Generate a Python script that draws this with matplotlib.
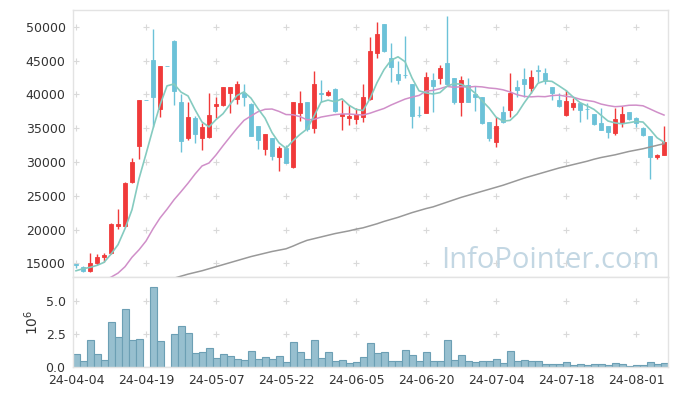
import numpy as np
import pandas as pd
import matplotlib
matplotlib.use('Agg')
import matplotlib.pyplot as plt

# trading days (KRX holidays removed)
holidays = ['2024-04-10', '2024-05-01', '2024-05-06', '2024-05-15', '2024-06-06']
dates = pd.bdate_range('2024-04-04', '2024-08-07', freq='C', holidays=holidays)

opens = [14900, 14500, 13800, 15000, 15950, 16500, 20500, 20450, 27100, 32350,
         39100, 45150, 37850, 44250, 47900, 38800, 33500, 36450, 33500, 33700,
         38250, 38400, 40150, 39300, 40150, 38500, 35250, 31900, 33500, 30700,
         32100, 29250, 37200, 38900, 35050, 40200, 39900, 40750, 36800, 36500,
         36350, 36600, 39300, 46150, 50350, 45400, 42950, 42900, 41500, 36950,
         37250, 42100, 42350, 44600, 42450, 38800, 41400, 40050, 39550, 35850,
         33000, 37450, 37700, 41150, 42300, 40900, 43550, 43100, 41050, 39150,
         36950, 38100, 38700, 37900, 37050, 35700, 35300, 34250, 35700, 37350,
         36450, 35050, 33900, 30800, 31050]
highs = [14950, 14600, 16600, 16400, 16600, 20900, 23000, 27000, 30550, 39100,
         39100, 49600, 44250, 44250, 48050, 40000, 38900, 36850, 35800, 40150,
         39650, 41100, 41050, 41950, 41600, 38750, 35250, 34100, 33500, 32400,
         32500, 38900, 40550, 38900, 43500, 42100, 40650, 41000, 39150, 38400,
         37950, 41600, 48500, 50650, 50400, 47550, 45000, 48700, 41500, 38300,
         43300, 43100, 44350, 51650, 42450, 42700, 42450, 41300, 39550, 35850,
         36700, 38300, 43100, 42100, 43850, 43600, 44350, 43850, 41050, 40150,
         40650, 39400, 38900, 38700, 37050, 37950, 35300, 37950, 38200, 37400,
         36700, 35200, 33900, 31150, 35350]
lows = [14250, 13750, 13750, 14800, 15250, 16400, 20050, 20300, 26850, 30450,
        39100, 35200, 36700, 44250, 38400, 31400, 33250, 32750, 31750, 33600,
        36450, 38300, 37300, 38550, 38200, 33800, 31850, 31050, 30300, 28700,
        29800, 29150, 36050, 34600, 34250, 38900, 39800, 37450, 34750, 35450,
        35550, 35850, 39200, 45300, 46300, 41750, 41550, 42400, 35000, 36700,
        37200, 37450, 41600, 41400, 38550, 36850, 38800, 37550, 35600, 33150,
        32250, 35700, 36700, 39650, 39650, 40150, 41750, 41600, 39150, 38100,
        36850, 37700, 35950, 36300, 35450, 34700, 33600, 34000, 35100, 36200,
        35100, 33850, 27400, 30450, 31000]
closes = [14700, 13800, 15000, 16000, 16200, 20800, 20800, 26850, 30050, 39100,
          39100, 39550, 44250, 44250, 40500, 33100, 36700, 34100, 35100, 36900,
          38500, 41050, 41050, 41600, 39600, 33850, 33250, 34100, 30900, 32000,
          29800, 38900, 38750, 34900, 41550, 40100, 40400, 37550, 37050, 36800,
          37050, 39550, 46400, 48850, 46400, 44000, 42100, 42800, 36800, 36900,
          42500, 41250, 43850, 41500, 38800, 42100, 38900, 39650, 35800, 33500,
          35300, 35950, 40150, 40600, 41500, 42500, 43450, 41950, 40150, 38200,
          39050, 38750, 37700, 37800, 35550, 34750, 34450, 36300, 37150, 36350,
          35700, 34000, 30800, 31050, 33000]
# volume in millions of shares
volumes = [0.94, 0.43, 2.0, 0.94, 0.5, 3.38, 2.23, 4.37, 2.0, 2.08,
           0.0, 6.1, 1.95, 0.0, 2.49, 3.07, 2.56, 1.04, 1.12, 1.4,
           0.66, 0.94, 0.81, 0.58, 0.5, 1.19, 0.58, 0.74, 0.58, 0.81,
           0.36, 1.88, 1.12, 0.58, 2.0, 0.66, 1.12, 0.43, 0.53, 0.28,
           0.38, 0.76, 1.83, 1.07, 1.14, 0.46, 0.46, 1.29, 0.91, 0.46,
           1.14, 0.46, 0.46, 2.05, 0.53, 0.91, 0.46, 0.38, 0.46, 0.46,
           0.61, 0.3, 1.22, 0.46, 0.53, 0.46, 0.46, 0.2, 0.2, 0.2,
           0.36, 0.13, 0.2, 0.13, 0.2, 0.2, 0.13, 0.28, 0.2, 0.05,
           0.13, 0.13, 0.36, 0.2, 0.28]

# moving-average values before enough closes are on screen
ma5_head = [13900, 14200, 14400, 14700]
ma20_head = [np.nan, np.nan, np.nan, np.nan, 12500, 12950, 13550, 14500, 15900, 17000,
             18300, 20100, 21700, 23000, 24400, 25600, 26850, 28200, 29400]
# long moving average (grey)
ma_long = [np.nan] * 14 + [
    12800, 13100, 13400, 13650, 13900, 14200, 14500, 14800, 15100, 15400,
    15700, 16000, 16250, 16500, 16750, 16950, 17150, 17550, 18000, 18400,
    18650, 18900, 19150, 19400, 19600, 19800, 20050, 20250, 20550, 20850,
    21200, 21500, 21800, 22150, 22500, 22800, 23100, 23350, 23700, 24050,
    24400, 24750, 25050, 25350, 25650, 25950, 26250, 26550, 26900, 27250,
    27600, 27900, 28200, 28500, 28800, 29100, 29350, 29600, 29850, 30100,
    30400, 30650, 30850, 31050, 31300, 31550, 31750, 31950, 32200, 32450,
    32700]

RED = '#f03a3a'
BLUE = '#6cc2d8'
GRID = '#d9d9d9'
SPINE = '#e3e3e3'

o = np.array(opens, float)
h = np.array(highs, float)
l = np.array(lows, float)
c = np.array(closes, float)
n = len(c)
x = np.arange(n)

cs = pd.Series(c)
ma5 = cs.rolling(5).mean().values
ma5[:4] = ma5_head
ma20 = cs.rolling(20).mean().values
ma20[:19] = ma20_head

fig = plt.figure(figsize=(6.77, 3.96), dpi=100)
ax = fig.add_axes([0.1071, 0.2997, 0.8789, 0.675])
axv = fig.add_axes([0.1071, 0.0740, 0.8789, 0.2257])

xticks = x[::10]
price_ticks = np.arange(15000, 50001, 5000)
vol_ticks = [0.0, 2.5, 5.0]

# "+" grid marks
gx, gy = np.meshgrid(xticks, price_ticks)
ax.scatter(gx.ravel(), gy.ravel(), marker='+', s=18, color=GRID, lw=0.8, zorder=0)
gx, gy = np.meshgrid(xticks, vol_ticks[1:])
axv.scatter(gx.ravel(), gy.ravel(), marker='+', s=18, color=GRID, lw=0.8, zorder=0)

# candles
cols = np.where(c > o, RED, BLUE)
ax.vlines(x, l, h, colors=cols, lw=1.0, zorder=2)
ax.bar(x, np.abs(c - o), bottom=np.minimum(o, c), width=0.62,
       color=cols, edgecolor=cols, lw=0.6, zorder=3)

# moving averages
ax.plot(x, ma_long, color='#999999', lw=1.1, zorder=4)
ax.plot(x, ma20, color='#d08fc9', lw=1.1, zorder=4)
ax.plot(x, ma5, color='#85cbc0', lw=1.2, zorder=4)

ax.text(0.987, 0.035, 'InfoPointer.com', transform=ax.transAxes, ha='right',
        va='baseline', fontsize=21, family='Open Sans', color='#c3d7e3', zorder=1)

ax.set_xlim(-0.5, n - 0.5)
ax.set_ylim(12930, 52470)
ax.set_yticks(price_ticks)
ax.set_xticks(xticks)
ax.set_xticklabels([])

# volume
axv.bar(x, volumes, width=1.0, color='#97bfcf', edgecolor='#6c9fb4', lw=0.8, zorder=2)
axv.set_xlim(-0.5, n - 0.5)
axv.set_ylim(0, 6.8)
axv.set_yticks(vol_ticks)
axv.set_yticklabels(['0.0', '2.5', '5.0'])
axv.set_xticks(xticks)
axv.set_xticklabels([d.strftime('%y-%m-%d') for d in dates[::10]])
axv.set_ylabel(r'$10^6$', fontsize=10, color='#333333', labelpad=3)

for a in (ax, axv):
    a.tick_params(length=0, labelsize=9, labelcolor='#333333', pad=5)
    for s in a.spines.values():
        s.set_color(SPINE)
        s.set_linewidth(1.0)

fig.savefig('out.png', dpi=100)
